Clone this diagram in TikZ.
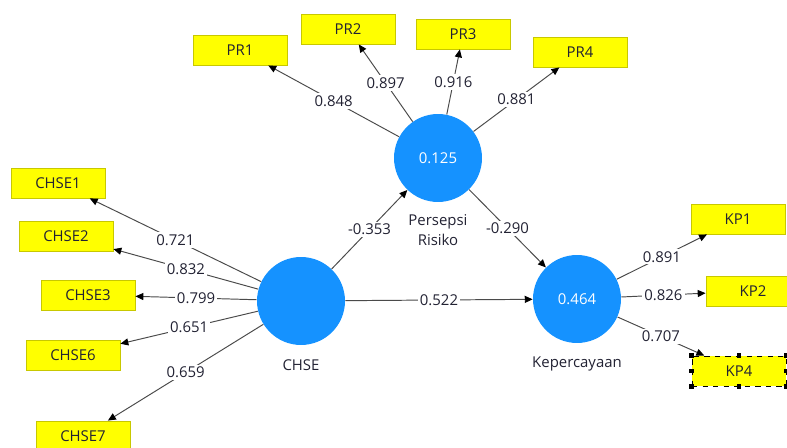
\documentclass[tikz,border=0pt]{standalone}
\usepackage{fontspec}
\setmainfont{Open Sans}
\usetikzlibrary{graphs,positioning,arrows.meta}
\definecolor{plsblue}{HTML}{1592FF}
\definecolor{plsyellow}{HTML}{FFFF00}
\definecolor{plsedge}{HTML}{C8C800}
\definecolor{plsline}{HTML}{4A4A4A}
\definecolor{plstext}{HTML}{222233}
\tikzset{
    latent/.style ={
        shape=circle,
        fill=plsblue,
        text=white,
        inner sep=0pt,
        minimum size=1.76cm
    },
    indicator/.style ={
        shape=rectangle,
        draw=plsedge,
        fill=plsyellow,
        text=plstext,
        line width=0.5pt,
        minimum width=1.88cm,
        minimum height=0.6cm
    },
    caption/.style ={
        text=plstext,
        align=center,
        inner sep=1pt
    },
    coef/.style ={
        fill=white,
        text=plstext,
        inner sep=1.2pt
    },
    link/.style ={
        draw=plsline,
        line width=0.55pt
    }
}

\begin{document}
\begin{tikzpicture}[x=0.02cm,y=-0.02cm,
    font=\fontsize{8.5}{10.5}\selectfont,
    >={Triangle[length=4.5pt,width=4pt,color=black]}]
    \path[use as bounding box] (0,0) rectangle (787,448);
    \clip (0,0) rectangle (787,448);
    % constructs
    \node[latent] (CHSE) at(301,301) {};
    \node[latent] (PR) at(438,158) {0.125};
    \node[latent] (KP) at(577,299) {0.464};
    \node[caption, below=0.24cm of CHSE] (CHSEname) {CHSE};
    \node[caption, below=0.2cm of PR, font=\fontsize{8.5}{11.5}\selectfont] (PRname) {Persepsi\\Risiko};
    \node[caption, below=0.22cm of KP] (KPname) {Kepercayaan};
    % indicators
    \node[indicator] (PR1) at(240,50) {PR1};
    \node[indicator] (PR2) at(348,29) {PR2};
    \node[indicator] (PR3) at(463,34) {PR3};
    \node[indicator] (PR4) at(580,52) {PR4};
    \node[indicator] (CHSE1) at(58,183) {CHSE1};
    \node[indicator] (CHSE2) at(66,236) {CHSE2};
    \node[indicator] (CHSE3) at(88,295) {CHSE3};
    \node[indicator] (CHSE6) at(73,355) {CHSE6};
    \node[indicator] (CHSE7) at(83,436) {CHSE7};
    \node[indicator] (KP1) at(738,219) {KP1};
    \node[indicator] (KP2) at(753,291) {KP2};
    \node[indicator, draw=black, dashed] (KP4) at(739,371) {KP4};
    \foreach \a in {north west,north,north east,east,south east,south,south west,west}
        \fill (KP4.\a) +(-1.4pt,-1.4pt) rectangle +(1.4pt,1.4pt);
    \graph[edges={link}]{
        (PR) ->[edge node={node[coef]{0.848}}] (PR1);
        (PR) ->[edge node={node[coef]{0.897}}] (PR2);
        (PR) ->[edge node={node[coef]{0.916}}] (PR3);
        (PR) ->[edge node={node[coef]{0.881}}] (PR4);
        (CHSE) ->[edge node={node[coef]{0.721}}] (CHSE1);
        (CHSE) ->[edge node={node[coef]{0.832}}] (CHSE2);
        (CHSE) ->[edge node={node[coef]{0.799}}] (CHSE3);
        (CHSE) ->[edge node={node[coef]{0.651}}] (CHSE6);
        (CHSE) ->[edge node={node[coef]{0.659}}] (CHSE7);
        (KP) ->[edge node={node[coef]{0.891}}] (KP1);
        (KP) ->[edge node={node[coef]{0.826}}] (KP2);
        (KP) ->[edge node={node[coef]{0.707}}] (KP4);
        (CHSE) ->[edge node={node[coef]{-0.353}}] (PR);
        (CHSE) ->[edge node={node[coef]{0.522}}] (KP);
        (PR) ->[edge node={node[coef]{-0.290}}] (KP);
    };
\end{tikzpicture}
\end{document}
